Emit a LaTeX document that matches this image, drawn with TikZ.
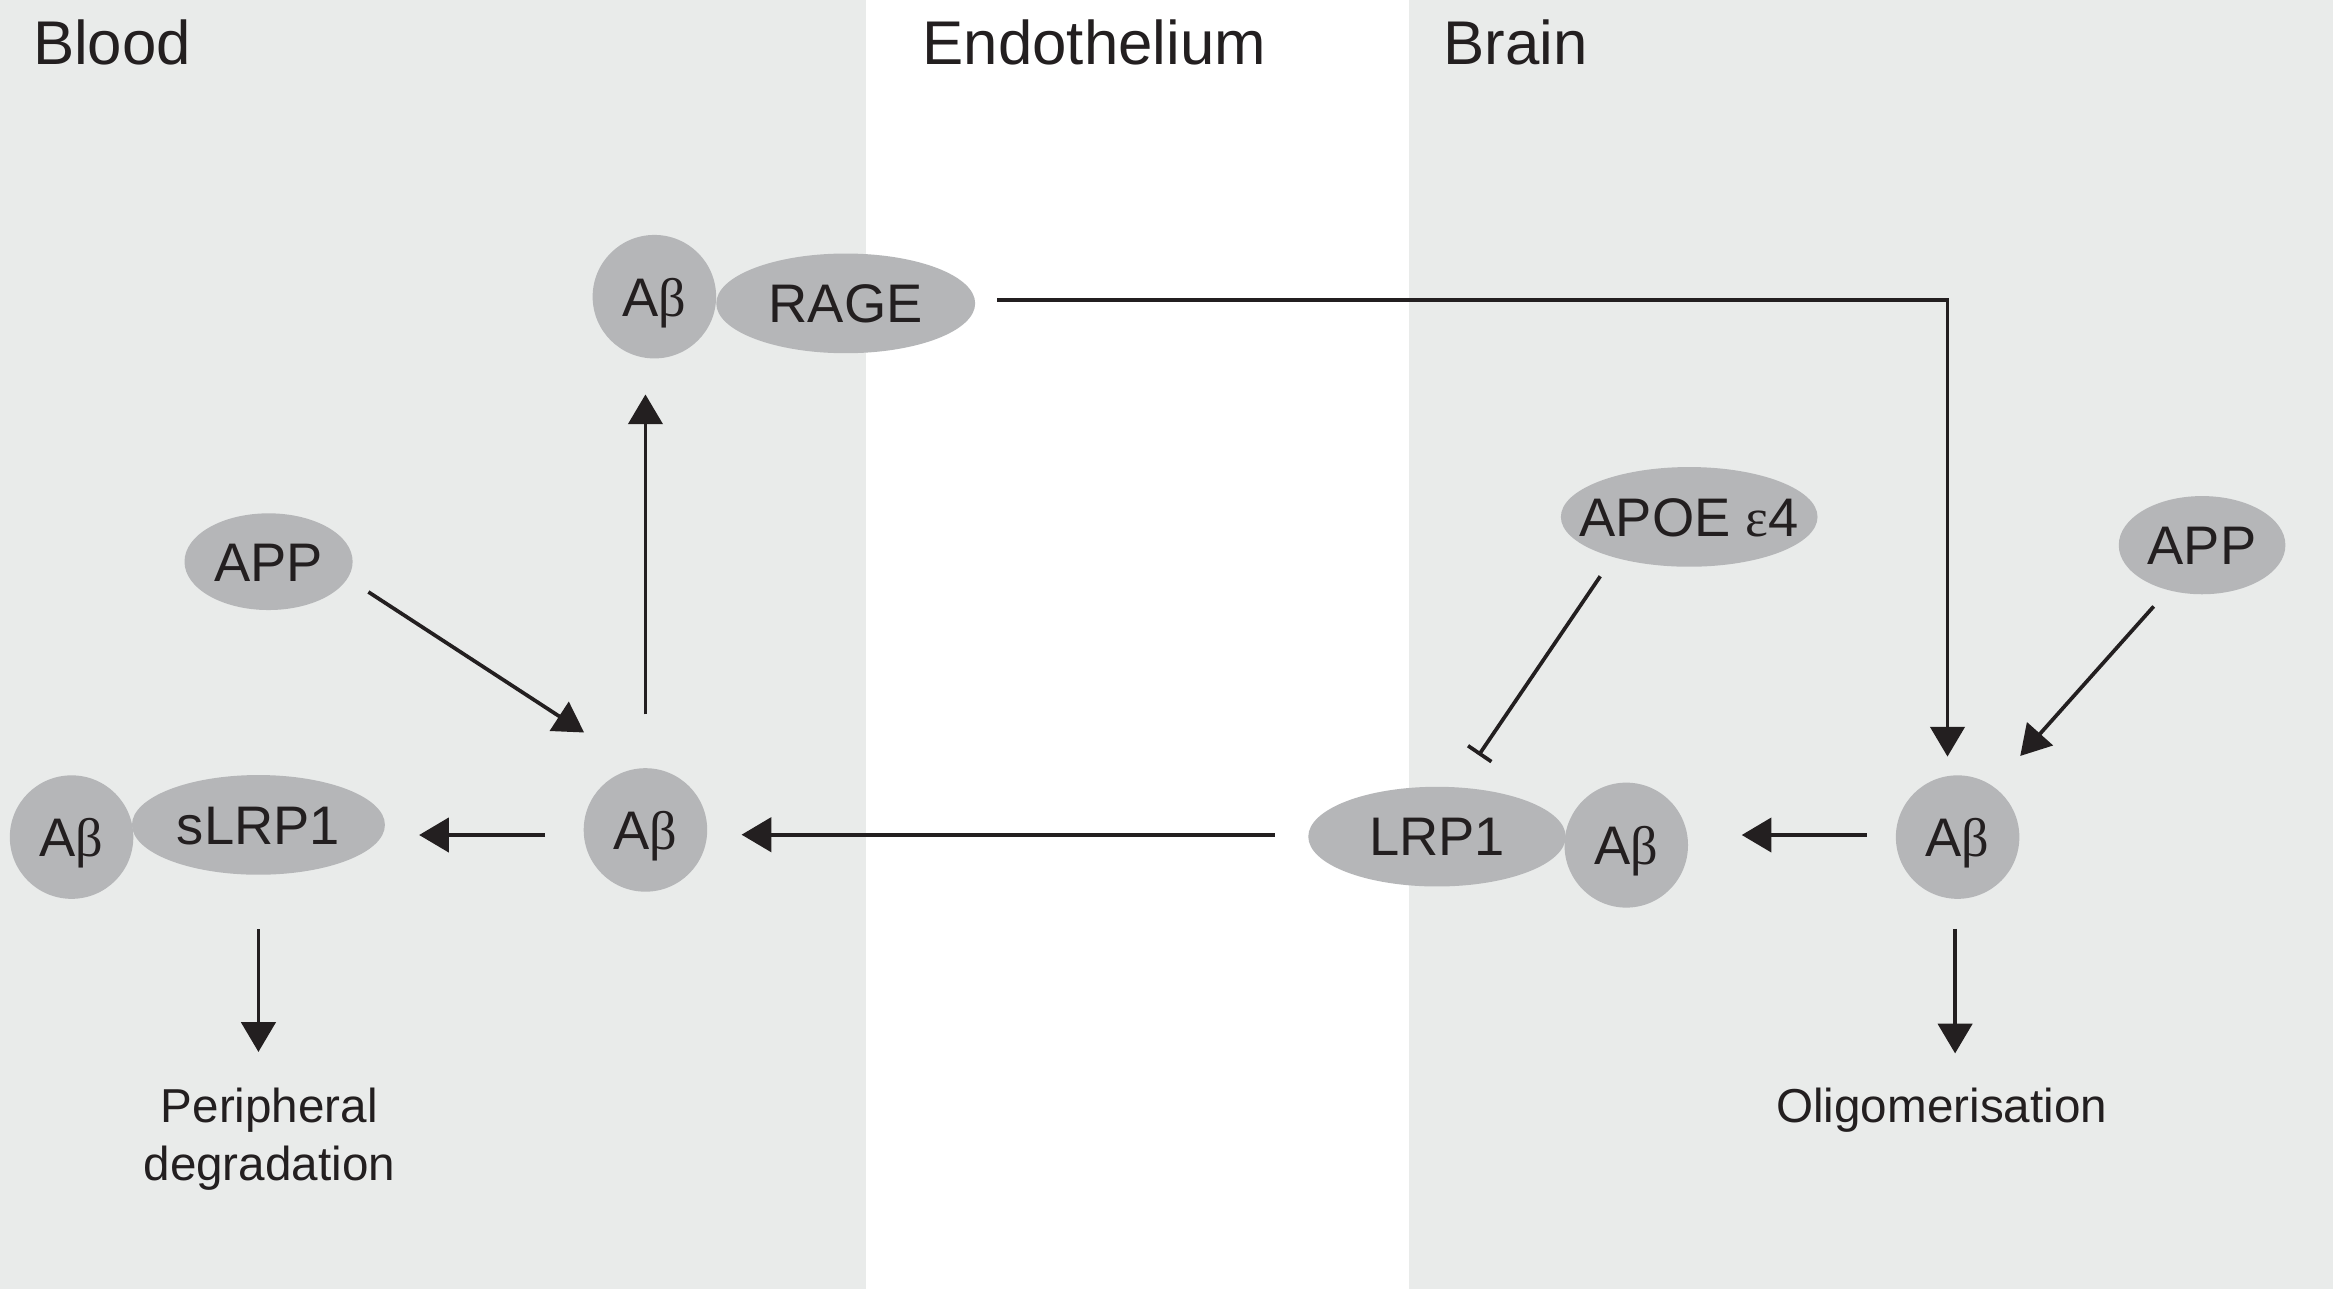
\documentclass[tikz,border=0pt]{standalone}
\usepackage{fontspec}
\setmainfont{Liberation Sans}
\newfontfamily\grk{Liberation Serif}
\usetikzlibrary{shapes.geometric,arrows.meta}
\definecolor{panel}{RGB}{233,235,234}
\definecolor{blob}{RGB}{181,182,184}
\definecolor{ink}{RGB}{35,31,32}
\tikzset{
  blobnode/.style={ellipse, fill=blob, inner xsep=-30pt, inner ysep=0pt, text=ink,
    font=\fontsize{36.5}{40}\selectfont, text height=26pt, text depth=0pt},
  abnode/.style={blobnode, minimum width=83pt, minimum height=83pt},
  recnode/.style={blobnode, minimum width=173pt, minimum height=67pt},
  heading/.style={anchor=base west, inner sep=0pt, text=ink, font=\fontsize{41.5}{46}\selectfont},
  outcome/.style={anchor=north, inner sep=0pt, text=ink, align=center, font=\fontsize{32}{39}\selectfont},
  arr/.style={draw=ink, line width=2.5pt, -{Triangle[length=20pt,width=23pt]}},
  inhib/.style={draw=ink, line width=2.5pt, -{Bar[width=19pt,line width=2.5pt]}}
}
\begin{document}
\begin{tikzpicture}[x=1pt,y=-1pt]
\useasboundingbox (0,0) rectangle (1568,866.3);
% panels
\fill[panel] (0,0) rectangle (582,866.3);
\fill[white] (582,0) rectangle (947,866.3);
\fill[panel] (947,0) rectangle (1568,866.3);
% headings
\node[heading] (hblood) at (22,43.5) {Blood};
\node[heading] (hendo) at (620,43.5) {Endothelium};
\node[heading] (hbrain) at (970,43.5) {Brain};
% nodes
\node[abnode] (ab1) at (439.8,199.4) {A{\grk β}};
\node[recnode, minimum width=174pt] (rage) at (568.4,203.9) {RAGE};
\node[blobnode, minimum width=113pt, minimum height=65pt] (app1) at (180.5,377.5) {APP};
\node[abnode] (ab2) at (433.8,557.8) {A{\grk β}};
\node[abnode] (abS) at (48.1,562.6) {A{\grk β}};
\node[recnode, minimum width=170pt] (slrp) at (173.7,554.4) {sLRP1};
\node[recnode] (lrp1) at (965.8,562.3) {LRP1};
\node[abnode, minimum height=84pt] (abL) at (1093,568) {A{\grk β}};
\node[recnode, minimum width=172.5pt] (apoe) at (1135.3,347.4) {APOE {\grk ε}4};
\node[blobnode, minimum width=112pt, minimum height=66pt] (app2) at (1480,366.4) {APP};
\node[abnode] (abR) at (1315.7,562.6) {A{\grk β}};
\node[outcome] (periph) at (181,731) {Peripheral\\degradation};
\node[outcome] (oligo) at (1305,731) {Oligomerisation};
% connectors
\draw[arr, shorten <=36pt, shorten >=24pt] (ab2.north) -- (ab2.north |- ab1.south);
\draw[arr, shorten <=14.6pt, shorten >=12.4pt] ([yshift=2.3pt]rage.east) -| ([xshift=-6.8pt]abR.north);
\draw[arr, shorten <=16.6pt, shorten >=44pt] (app1.-12.6) -- (ab2.96.7);
\draw[arr, shorten <=25.8pt, shorten >=22.8pt] ([yshift=-3.4pt]ab2.west) -- ([yshift=-3.4pt]ab2.west -| slrp.east);
\draw[arr, shorten <=36.3pt, shorten >=24pt] (slrp.south) -- (slrp.south |- periph.north);
\draw[arr, shorten <=22.4pt, shorten >=22.9pt] ([yshift=1.3pt]lrp1.west) -- ([yshift=1.3pt]lrp1.west -| ab2.east);
\draw[arr, shorten <=19.4pt, shorten >=35.9pt] ([yshift=1.4pt]abR.west) -- ([yshift=1.4pt]abR.west -| abL.east);
\draw[arr, shorten <=14.5pt, shorten >=27.3pt] (app2.233.8) -- (abR.55.9);
\draw[inhib, shorten <=15.4pt, shorten >=25.9pt] (apoe.208) -- (lrp1.68.3);
\draw[arr, shorten <=20pt, shorten >=23pt] ([xshift=-1.7pt]abR.south) -- ([xshift=-1.7pt]abR.south |- oligo.north);
\end{tikzpicture}
\end{document}
